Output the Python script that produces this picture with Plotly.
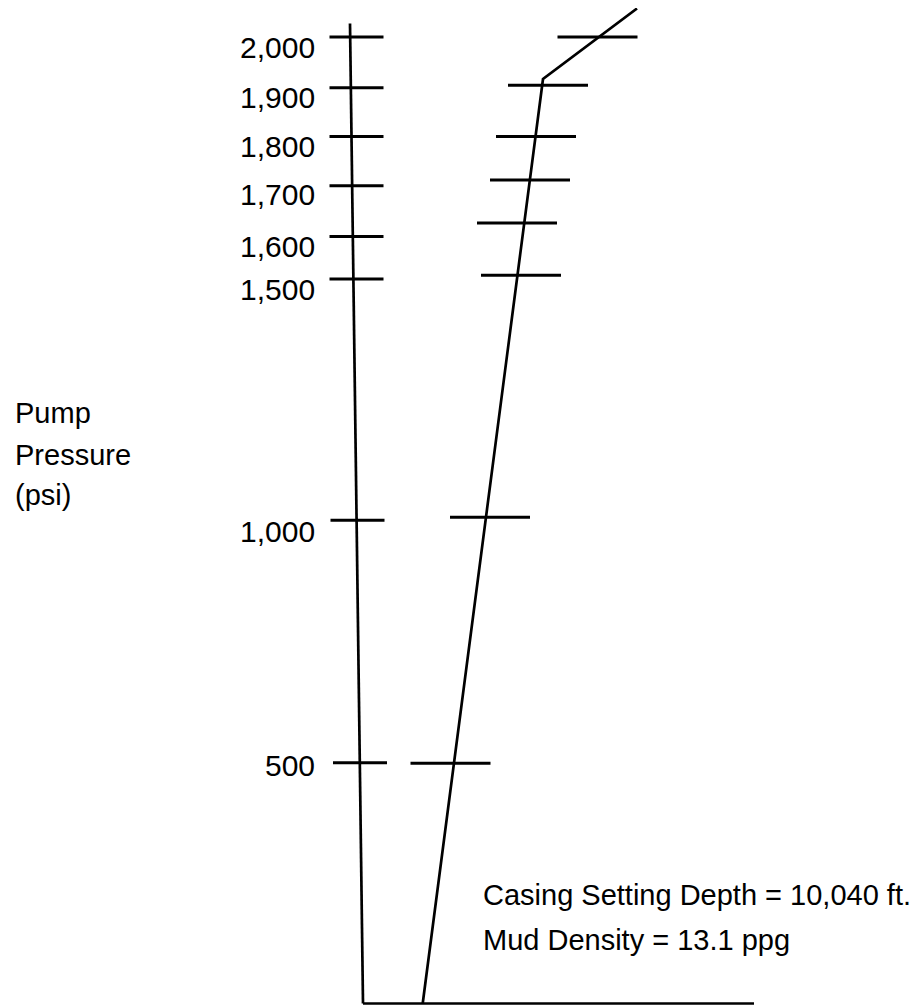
import plotly.graph_objects as go

# ---- data (volume pumped in arbitrary units, pressure in psi) ----
axis_line_vol = [0.0, -1.3]
axis_line_psi = [0, 2028]

base_line_vol = [0.0, 39.1]
base_line_psi = [0, 0]

test_line_vol = [5.97, 18.0, 27.4]
test_line_psi = [0, 1913, 2059]

point_vol = [8.75, 12.7, 15.8, 15.4, 16.7, 17.3, 18.5, 23.45]
point_psi = [497, 1006, 1507, 1615, 1704, 1794, 1900, 2000]

tick_psi = [498, 1000, 1499, 1587, 1692, 1794, 1895, 2000]
tick_vol = [-0.3, -0.55, -0.65, -0.65, -0.65, -0.65, -0.65, -0.65]
tick_labels = ["500", "1,000", "1,500", "1,600", "1,700", "1,800", "1,900", "2,000"]

y_title_lines = ["Pump", "Pressure", "(psi)"]
note_lines = ["Casing Setting Depth = 10,040 ft.", "Mud Density = 13.1 ppg"]

# ---- styling / layout ----
# the page body has an 8px margin: the figure covers reference pixels [8, 919] x [8, 1005]
OFF = 8
W, H = 919 - OFF, 1005 - OFF
FONT = "Liberation Sans, Arial, sans-serif"
BLACK = "#000000"


def px_x(X):
    return (X - OFF) / W


def px_y(Y):
    return 1 - (Y - OFF) / H


fig = go.Figure()
for xs, ys in [(axis_line_vol, axis_line_psi), (base_line_vol, base_line_psi),
               (test_line_vol, test_line_psi)]:
    fig.add_trace(go.Scatter(x=xs, y=ys, mode="lines",
                             line=dict(color=BLACK, width=2.7), hoverinfo="skip"))
# line-ew marker length = 1.4 * size
fig.add_trace(go.Scatter(x=tick_vol, y=tick_psi, mode="markers",
                         marker=dict(symbol="line-ew", size=54 / 1.4,
                                     line=dict(color=BLACK, width=3)),
                         hoverinfo="skip"))
fig.add_trace(go.Scatter(x=point_vol, y=point_psi, mode="markers",
                         marker=dict(symbol="line-ew", size=80 / 1.4,
                                     line=dict(color=BLACK, width=3)),
                         hoverinfo="skip"))

label_shift = [-3, -11, -10, -10, -9, -10, -10, -10]
for p, lab, s in zip(tick_psi, tick_labels, label_shift):
    fig.add_annotation(x=px_x(317), xref="paper", y=p, yref="y", text=lab,
                       showarrow=False, xanchor="right", yanchor="middle",
                       yshift=s, font=dict(family=FONT, size=30, color=BLACK))

for txt, ypx in zip(y_title_lines, [412.5, 454.5, 495.5]):
    fig.add_annotation(x=px_x(13), xref="paper", y=px_y(ypx), yref="paper",
                       text=txt, showarrow=False, xanchor="left", yanchor="middle",
                       font=dict(family=FONT, size=29, color=BLACK))

for txt, ypx in zip(note_lines, [895, 940]):
    fig.add_annotation(x=px_x(481), xref="paper", y=px_y(ypx), yref="paper",
                       text=txt, showarrow=False, xanchor="left", yanchor="middle",
                       font=dict(family=FONT, size=29, color=BLACK))

px_per_psi = (1003.5 - 37) / 2000.0
ymin = -(H - (1003.5 - OFF)) / px_per_psi
ymax = ymin + H / px_per_psi
px_per_vol = 10.0
xmin = -(363 - OFF) / px_per_vol
xmax = xmin + W / px_per_vol

fig.update_layout(
    width=W, height=H,
    margin=dict(l=0, r=0, t=0, b=0),
    paper_bgcolor="white", plot_bgcolor="white",
    showlegend=False,
    xaxis=dict(range=[xmin, xmax], visible=False, fixedrange=True),
    yaxis=dict(range=[ymin, ymax], visible=False, fixedrange=True),
)
fig.write_html("out.html", config={"displayModeBar": False})
